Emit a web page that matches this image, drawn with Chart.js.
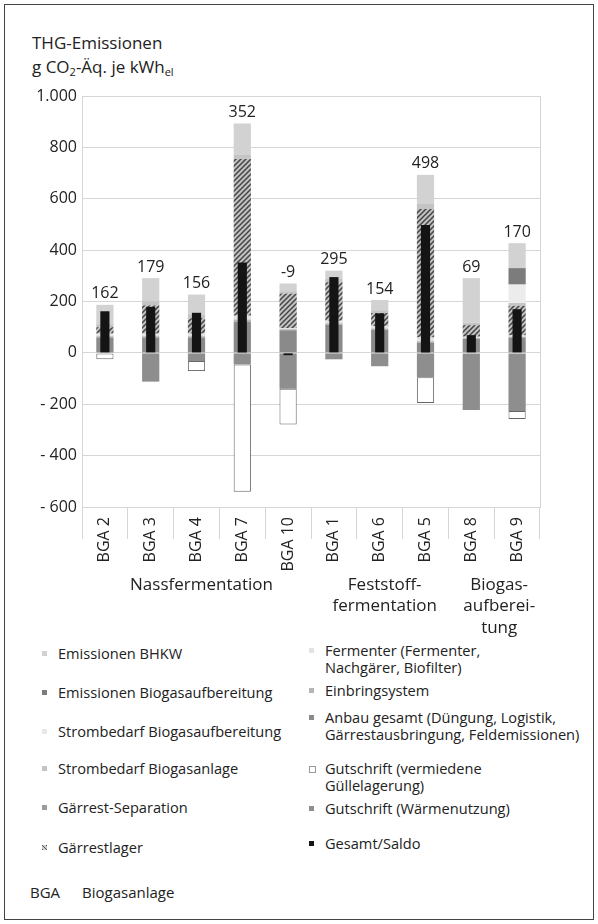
<!DOCTYPE html>
<html lang="de">
<head>
<meta charset="utf-8">
<script src="https://cdn.jsdelivr.net/npm/chart.js@4.4.1/dist/chart.umd.min.js"></script>
<style>
  html, body { margin: 0; padding: 0; background: #fff; }
  body { width: 598px; height: 924px; position: relative; overflow: hidden; font-family: "Open Sans", sans-serif; color: #222; }
  #frame { position: absolute; left: 4px; top: 4px; width: 588px; height: 914px; border: 1.5px solid #444; }
  #chartBox { position: absolute; left: 0; top: 0; width: 598px; height: 640px; }
  #title { position: absolute; left: 32px; top: 31px; font-size: 17px; line-height: 24px; }
  #title sub { font-size: 11px; vertical-align: -3px; line-height: 0; }
  .lg { position: absolute; font-size: 14.6px; line-height: 17px; white-space: nowrap; }
  .mk { position: absolute; width: 5px; height: 5px; }
  .note { position: absolute; top: 882px; font-size: 15px; }
</style>
</head>
<body>
<div id="frame"></div>
<div id="title">THG-Emissionen<br>g CO<sub>2</sub>-Äq. je kWh<sub>el</sub></div>
<div id="chartBox"><canvas id="emiChart" width="598" height="640"></canvas></div>
<div id="legend"></div>
<div class="note" style="left:30px">BGA</div>
<div class="note" style="left:82px">Biogasanlage</div>

<script>
const categories = ['BGA 2', 'BGA 3', 'BGA 4', 'BGA 7', 'BGA 10', 'BGA 1', 'BGA 6', 'BGA 5', 'BGA 8', 'BGA 9'];

// positive contributions, bottom to top of each stack
const anbau             = [60, 60, 60, 120, 88, 110, 90, 40, 55, 60];
const einbringsystem    = [5, 5, 5, 10, 4, 5, 5, 5, 3, 3];
const fermenter         = [10, 10, 10, 15, 4, 10, 10, 15, 5, 5];
const gaerrestlager     = [25, 110, 60, 610, 135, 150, 50, 500, 45, 115];
const separation        = [0, 0, 0, 0, 0, 0, 0, 0, 0, 0];
const stromAnlage       = [12, 16, 15, 18, 9, 15, 11, 22, 10, 11];
const stromAufbereitung = [0, 0, 0, 0, 0, 0, 0, 0, 0, 72];
const emisAufbereitung  = [0, 0, 0, 0, 0, 0, 0, 0, 0, 64];
const emisBHKW          = [75, 90, 77, 120, 30, 30, 40, 111, 173, 97];
// credits (negative)
const gutschriftWaerme  = [0, -112, -32, -45, -140, -25, -52, -95, -222, -226];
const gutschriftGuelle  = [-25, 0, -39, -496, -139, 0, 0, -100, 0, -31];
// net result
const saldo             = [162, 179, 156, 352, -9, 295, 154, 498, 69, 170];

const yTicks = [-600, -400, -200, 0, 200, 400, 600, 800, 1000];

const groups = [
    { from: 0, to: 4, lines: ['Nassfermentation'] },
    { from: 5, to: 7, lines: ['Feststoff-', 'fermentation'] },
    { from: 8, to: 9, lines: ['Biogas-', 'aufberei-', 'tung'] }
];

const FONT = '"Open Sans", sans-serif';
Chart.defaults.font.family = FONT;
Chart.defaults.color = '#222';

function hatchPattern() {
    const c = document.createElement('canvas');
    c.width = 5; c.height = 5;
    const g = c.getContext('2d');
    g.fillStyle = '#c2c2c2';
    g.fillRect(0, 0, 5, 5);
    g.strokeStyle = '#444';
    g.lineWidth = 1.5;
    g.beginPath();
    g.moveTo(0, 5); g.lineTo(5, 0);
    g.moveTo(-1, 1); g.lineTo(1, -1);
    g.moveTo(4, 6); g.lineTo(6, 4);
    g.stroke();
    return g.createPattern(c, 'repeat');
}

const stackBar = { stack: 'parts', categoryPercentage: 0.8, barPercentage: 0.47, borderWidth: 0 };

const dsSaldo = { label: 'Gesamt/Saldo', data: saldo, backgroundColor: '#141414', stack: 'saldo', grouped: false, categoryPercentage: 1, barPercentage: 0.2, borderWidth: 0, swatch: '#141414' };
const dsAnbau = { ...stackBar, label: 'Anbau gesamt (Düngung, Logistik,\nGärrestausbringung, Feldemissionen)', data: anbau, backgroundColor: '#8a8a8a', swatch: '#8a8a8a' };
const dsEinbring = { ...stackBar, label: 'Einbringsystem', data: einbringsystem, backgroundColor: '#b5b5b5', swatch: '#b5b5b5' };
const dsFermenter = { ...stackBar, label: 'Fermenter (Fermenter,\nNachgärer, Biofilter)', data: fermenter, backgroundColor: '#e3e3e3', swatch: '#e3e3e3' };
const dsLager = { ...stackBar, label: 'Gärrestlager', data: gaerrestlager, backgroundColor: hatchPattern(), swatch: 'repeating-linear-gradient(45deg,#555 0 1px,#ccc 1px 3px)' };
const dsSeparation = { ...stackBar, label: 'Gärrest-Separation', data: separation, backgroundColor: '#9c9c9c', swatch: '#9c9c9c' };
const dsStromAnlage = { ...stackBar, label: 'Strombedarf Biogasanlage', data: stromAnlage, backgroundColor: '#c4c4c4', swatch: '#c4c4c4' };
const dsStromAufb = { ...stackBar, label: 'Strombedarf Biogasaufbereitung', data: stromAufbereitung, backgroundColor: '#ececec', swatch: '#e8e8e8' };
const dsEmisAufb = { ...stackBar, label: 'Emissionen Biogasaufbereitung', data: emisAufbereitung, backgroundColor: '#7c7c7c', swatch: '#7c7c7c' };
const dsBHKW = { ...stackBar, label: 'Emissionen BHKW', data: emisBHKW, backgroundColor: '#d2d2d2', swatch: '#d2d2d2' };
const dsWaerme = { ...stackBar, label: 'Gutschrift (Wärmenutzung)', data: gutschriftWaerme, backgroundColor: '#8e8e8e', swatch: '#8e8e8e' };
const dsGuelle = { ...stackBar, label: 'Gutschrift (vermiedene\nGüllelagerung)', data: gutschriftGuelle, backgroundColor: '#ffffff',
    borderColor: '#666', borderWidth: ctx => (ctx.raw ? 1 : 0), borderSkipped: false, swatch: '#fff' };

// the saldo bar comes first so it is painted on top of the stacks
const datasets = [dsSaldo, dsAnbau, dsEinbring, dsFermenter, dsLager, dsSeparation, dsStromAnlage, dsStromAufb, dsEmisAufb, dsBHKW, dsWaerme, dsGuelle];
const positiveSeries = [anbau, einbringsystem, fermenter, gaerrestlager, separation, stromAnlage, stromAufbereitung, emisAufbereitung, emisBHKW];

const overlay = {
    id: 'overlay',
    afterDraw(chart) {
        const { ctx, chartArea, scales: { x, y } } = chart;
        ctx.save();
        // right edge of plot area
        ctx.strokeStyle = '#d4d4d4';
        ctx.lineWidth = 1;
        ctx.beginPath();
        ctx.moveTo(chartArea.right + 0.5, chartArea.top);
        ctx.lineTo(chartArea.right + 0.5, chartArea.bottom);
        ctx.stroke();

        // saldo numbers above the positive stack
        ctx.fillStyle = '#222';
        ctx.textAlign = 'center';
        ctx.textBaseline = 'middle';
        ctx.font = '16px ' + FONT;
        categories.forEach((c, i) => {
            const top = positiveSeries.reduce((s, arr) => s + Math.max(arr[i], 0), 0);
            ctx.fillText(String(saldo[i]), x.getPixelForValue(i), y.getPixelForValue(top) - 11);
        });

        // group names under the category labels
        ctx.font = '17px ' + FONT;
        groups.forEach(g => {
            const cx = (x.getPixelForValue(g.from) + x.getPixelForValue(g.to)) / 2 + 5;
            g.lines.forEach((t, k) => ctx.fillText(t, cx, 585 + k * 21.5));
        });
        ctx.restore();
    }
};

const chart = new Chart(document.getElementById('emiChart').getContext('2d'), {
    type: 'bar',
    data: { labels: categories, datasets: datasets },
    options: {
        responsive: false,
        animation: false,
        layout: { padding: { left: 32, right: 58, top: 96, bottom: 0 } },
        plugins: { legend: { display: false }, tooltip: { enabled: false } },
        scales: {
            x: {
                stacked: true,
                grid: { display: true, drawOnChartArea: false, drawTicks: true, tickLength: 32, color: '#d6d6d6', offset: true },
                border: { display: true, color: '#d6d6d6' },
                ticks: { autoSkip: false, minRotation: 90, maxRotation: 90, padding: -22, font: { size: 16 }, color: '#222' },
                afterFit: s => { s.height = 133; }
            },
            y: {
                stacked: true,
                min: -600,
                max: 1000,
                afterBuildTicks: s => { s.ticks = yTicks.map(v => ({ value: v })); },
                grid: { color: '#d6d6d6', drawTicks: false },
                border: { display: true, color: '#d6d6d6' },
                ticks: {
                    padding: 5,
                    font: { size: 16 },
                    color: '#222',
                    callback: v => (v < 0 ? '- ' : '') + Math.abs(v).toLocaleString('de-DE')
                },
                afterFit: s => { s.width = 50; }
            }
        }
    },
    plugins: [overlay]
});

// legend, two columns like the printed figure
const legendCols = [
    { x: 58, items: [[dsBHKW, 653], [dsEmisAufb, 692], [dsStromAufb, 731], [dsStromAnlage, 768], [dsSeparation, 807], [dsLager, 847]] },
    { x: 325, items: [[dsFermenter, 650], [dsEinbring, 690], [dsAnbau, 717], [dsGuelle, 768], [dsWaerme, 808], [dsSaldo, 843]] }
];
const legendEl = document.getElementById('legend');
legendCols.forEach(col => {
    col.items.forEach(([ds, cy]) => {
        const t = document.createElement('div');
        t.className = 'lg';
        t.style.left = col.x + 'px';
        t.style.top = (cy - 8.5) + 'px';
        t.innerHTML = ds.label.split('\n').join('<br>');
        legendEl.appendChild(t);
        const m = document.createElement('div');
        m.className = 'mk';
        m.style.left = (col.x - 16) + 'px';
        m.style.top = (cy - 2) + 'px';
        m.style.background = ds.swatch;
        if (ds === dsGuelle) m.style.border = '1px solid #999';
        legendEl.appendChild(m);
    });
});
</script>
</body>
</html>
